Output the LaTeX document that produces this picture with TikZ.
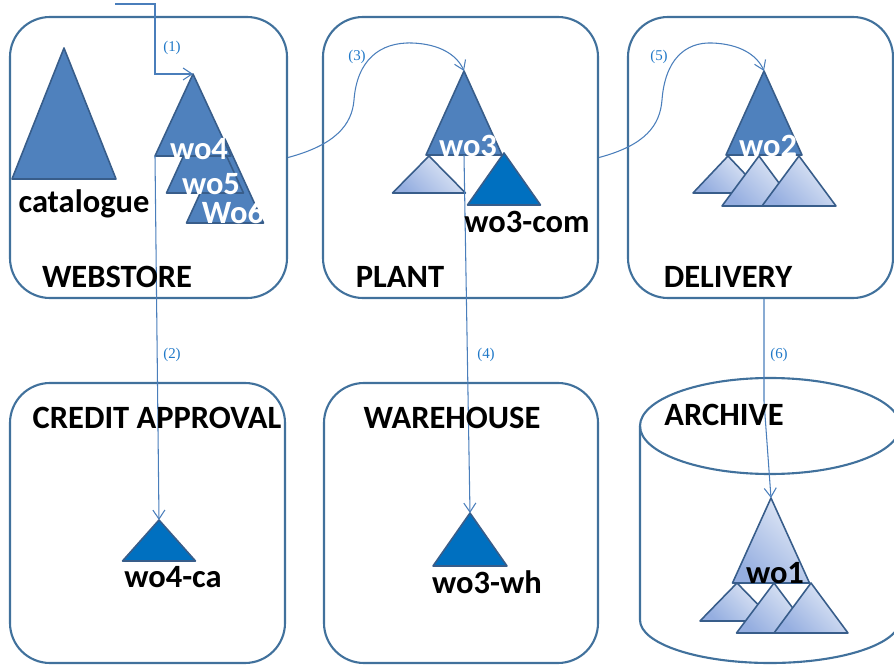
\documentclass[tikz,border=0pt]{standalone}
\usepackage{fontspec}
\setmainfont{Carlito}
\newfontfamily\stepfont{Liberation Serif}
\usetikzlibrary{arrows.meta}
\definecolor{boxblue}{HTML}{41719C}
\definecolor{midblue}{HTML}{4F81BD}
\definecolor{tribdr}{HTML}{385D8A}
\definecolor{deepblue}{HTML}{0070C0}
\definecolor{liteA}{HTML}{95AEE0}
\definecolor{liteB}{HTML}{E4EBF7}
\definecolor{flowblue}{HTML}{4A7EBB}
\definecolor{stepblue}{HTML}{1F78C8}
\def\tri[#1](#2)(#3,#4)(#5:#6){%
  \coordinate (#2-top) at (#3,#4);
  \coordinate (#2-bl) at ({#3-#5},{#4+#6});
  \coordinate (#2-br) at ({#3+#5},{#4+#6});
  \coordinate (#2-b) at (#3,{#4+#6});
  \draw[#1] (#2-top) -- (#2-br) -- (#2-bl) -- cycle;}
\tikzset{
  dept/.style={draw=boxblue, line width=1.2pt, rounded corners=8mm, minimum height=56.2mm},
  mid/.style={draw=tribdr, line width=0.9pt, line join=round, fill=midblue},
  deep/.style={draw=tribdr, line width=0.9pt, line join=round, fill=deepblue},
  lite/.style={draw=tribdr, line width=0.9pt, line join=round, bottom color=liteA, top color=liteB, shading angle=-45},
  title/.style={font=\fontsize{18.5}{21}\selectfont\bfseries},
  tag/.style={font=\fontsize{18.5}{21}\selectfont\bfseries, inner sep=0pt},
  stepnum/.style={text=stepblue, font=\stepfont\fontsize{8.5}{10}\selectfont},
  flow/.style={draw=flowblue, line width=0.6pt, -{Straight Barb[length=1.8mm, width=2.4mm]}}
}

\begin{document}
\begin{tikzpicture}[x=0.2mm, y=-0.2mm]
		%%%%% START %%%%%
		\useasboundingbox (0,0) rectangle (894,665);
		
		% departments
		\node[dept, minimum width=55.4mm] (webstore) at (148.5,157.5) {};
		\node[dept, minimum width=55mm] (plant) at (460.5,157.5) {};
		\node[dept, minimum width=53mm] (delivery) at (760.5,157.5) {};
		\node[dept, minimum width=55mm, minimum height=56mm] (credit) at (147.5,523) {};
		\node[dept, minimum width=54.8mm, minimum height=56mm] (warehouse) at (461,523) {};
		
		% archive drum
		\draw[draw=boxblue, line width=1.2pt] (770,426) ellipse [x radius=26mm, y radius=9.6mm];
		\draw[draw=boxblue, line width=1.2pt] (640,426) -- (640,620) arc[start angle=180, end angle=360, x radius=26mm, y radius=8.6mm] -- (900,426);
		
		% webstore
		\tri[mid](cat)(64,48)(52:131)
		\tri[mid](wo6)(225,139)(38.5:84)
		\tri[mid](wo5)(205,109)(38.5:84)
		\tri[mid](wo4)(193,74)(38:82)
		
		% plant
		\tri[mid](wo3)(464,71)(38:84)
		\tri[lite](pl)(429,156)(36.5:37)
		\tri[deep](wocom)(504,153)(36.5:52)
		
		% delivery
		\tri[mid](wo2)(764,71)(38:84)
		\tri[lite](dl)(728,156)(35:37)
		\tri[lite](dm)(759,156)(37:50)
		\tri[lite](dr)(799,156)(37:50)
		
		% lower row
		\tri[deep](woca)(159,520)(36.5:41)
		\tri[deep](wowh)(470,513)(37:53)
		\tri[lite](wo1)(771,498)(38.5:85)
		\tri[lite](al)(737,583)(37:38)
		\tri[lite](am)(774,583)(37.5:50)
		\tri[lite](ar)(811,583)(37:50)
		
		% flows
		\coordinate (in) at (115,4);
		\draw[flow] (in) -- ++(40,0) |- (wo4-top);
		\draw[flow] (wo4-bl) -- (woca-top);
		\draw[flow] (webstore.east) .. controls (335,145) and (352,125) .. (354,100) .. controls (357,60) and (380,42) .. (412,43) .. controls (440,44) and (457,55) .. (wo3-top);
		\draw[flow] (wo3-b) -- (wowh-top);
		\draw[flow] (plant.east) .. controls (646,145) and (660,125) .. (662,100) .. controls (665,60) and (685,42) .. (712,43) .. controls (740,44) and (757,55) .. (wo2-top);
		\draw[flow] (delivery.south -| wo2-top) -- ++(0,102) -- (wo1-top);
		
		\node[stepnum] (s1) at (172,48) {(1)};
		\node[stepnum] (s2) at (172,355) {(2)};
		\node[stepnum] (s3) at (357,57) {(3)};
		\node[stepnum] (s4) at (486,355) {(4)};
		\node[stepnum] (s5) at (659,57) {(5)};
		\node[stepnum] (s6) at (779,355) {(6)};
		
		% labels
		\node[title] (ws-t) at (117,277) {WEBSTORE};
		\node[title] (pl-t) at (400,277) {PLANT};
		\node[title] (dl-t) at (728,277) {DELIVERY};
		\node[title] (ca-t) at (157,418) {CREDIT APPROVAL};
		\node[title] (wh-t) at (452,418) {WAREHOUSE};
		\node[title] (ar-t) at (724,415) {ARCHIVE};
		
		\node[tag] (cat-l) at (84,204) {catalogue};
		\node[tag, text=white] (wo4-l) at (199,149) {wo4};
		\node[tag, text=white] (wo5-l) at (211,184) {wo5};
		\node[tag, text=white] (wo6-l) at (233,213) {Wo6};
		\node[tag, text=white] (wo3-l) at (468,146) {wo3};
		\node[tag] (wocom-l) at (527,222) {wo3-com};
		\node[tag, text=white] (wo2-l) at (768,146) {wo2};
		\node[tag] (woca-l) at (173,577) {wo4-ca};
		\node[tag] (wowh-l) at (487,582) {wo3-wh};
		\node[tag] (wo1-l) at (775,573) {wo1};
		%%%%% END %%%%%
	\end{tikzpicture}
\end{document}
